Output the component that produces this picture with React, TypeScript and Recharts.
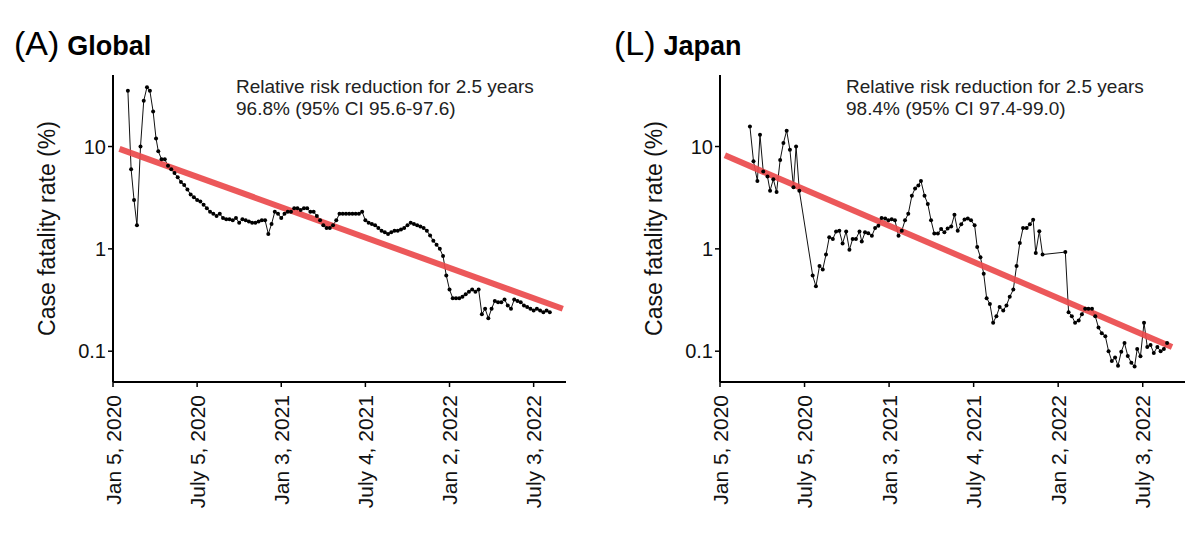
import React from "react";
import { CartesianGrid, Line, LineChart, XAxis, YAxis } from "recharts";

// x values are weeks since Jan 5, 2020
const tickWeeks = [0, 26, 52, 78, 104, 130];
const tickLabels = ["Jan 5, 2020", "July 5, 2020", "Jan 3, 2021", "July 4, 2021", "Jan 2, 2022", "July 3, 2022"];
const yTicks = [0.1, 1, 10];

const globalWeeks = [
  4.6, 5.6, 6.5, 7.4, 8.5, 9.5, 10.5, 11.4, 12.4, 13.3, 14, 15, 16, 17, 18, 19, 20, 21, 22, 23, 24, 25, 26, 27, 28, 29,
  30, 31, 32, 33, 34, 35, 36, 37, 38, 39, 40, 41, 42, 43, 44, 45, 46, 47, 48, 49, 50, 51, 52, 53, 54, 55, 56, 57, 58,
  59, 60, 61, 62, 63, 64, 65, 66, 67, 68, 69, 70, 71, 72, 73, 74, 75, 76, 77, 78, 79, 80, 81, 82, 83, 84, 85, 86, 87,
  88, 89, 90, 91, 92, 93, 94, 95, 96, 97, 98, 99, 100, 101, 102, 103, 104, 105, 106, 107, 108, 109, 110, 111, 112, 113,
  114, 115, 116, 117, 118, 119, 120, 121, 122, 123, 124, 125, 126, 127, 128, 129, 130, 131, 132, 133, 134, 135,
];
const globalRates = [
  35, 6, 3, 1.7, 10, 28, 38, 35, 22, 12, 9, 7.5, 7.5, 6.5, 6, 5.5, 5, 4.5, 4.2, 3.8, 3.4, 3.2, 3, 2.9, 2.7, 2.5, 2.3,
  2.2, 2.1, 2.2, 2, 1.95, 1.95, 1.9, 2, 1.8, 1.95, 1.9, 1.85, 1.8, 1.8, 1.85, 1.9, 1.9, 1.4, 1.75, 2.3, 2.2, 2.0, 2.2,
  2.3, 2.3, 2.5, 2.5, 2.4, 2.5, 2.5, 2.3, 2.3, 2.1, 1.9, 1.7, 1.6, 1.6, 1.7, 1.9, 2.2, 2.2, 2.2, 2.2, 2.2, 2.2, 2.2,
  2.3, 1.9, 1.8, 1.75, 1.7, 1.6, 1.5, 1.45, 1.4, 1.45, 1.5, 1.5, 1.55, 1.6, 1.7, 1.8, 1.75, 1.7, 1.65, 1.6, 1.5, 1.35,
  1.2, 1.1, 1.0, 0.85, 0.55, 0.4, 0.33, 0.33, 0.33, 0.34, 0.36, 0.38, 0.4, 0.38, 0.4, 0.23, 0.26, 0.21, 0.26, 0.31,
  0.3, 0.3, 0.32, 0.28, 0.26, 0.32, 0.31, 0.3, 0.28, 0.27, 0.26, 0.25, 0.26, 0.25, 0.24, 0.25, 0.24,
];
const globalTrendWeeks = [2, 139];
const globalTrendRates = [9.5, 0.26];

const japanWeeks = [
  9.2, 10.3, 11.5, 12.3, 13.3, 14.6, 15.4, 16.4, 17.4, 18.5, 19.5, 20.5, 21.5, 22.6, 23.4, 24.4, 28.5, 29.5, 30.6, 31.6,
  32.6, 33.6, 34.7, 35.7, 36.7, 37.7, 38.8, 39.8, 40.8, 41.8, 42.9, 43.6, 44.6, 45.6, 46.7, 47.7, 48.7, 49.7, 50.8,
  51.8, 52.8, 53.8, 54.9, 55.9, 56.9, 57.9, 59, 60, 61, 61.8, 62.9, 63.9, 64.9, 65.9, 67, 68, 69, 70, 71.1, 72.1, 73.1,
  74.2, 75.2, 76.2, 77.2, 78.3, 79.1, 80.1, 81.1, 82, 83, 84, 85, 86, 87.1, 88.1, 89.1, 90.2, 91.2, 92.2, 93.2, 94.3,
  95.3, 96.3, 97.1, 98.2, 99.2, 106.2, 107.2, 108.2, 109.2, 110.3, 111.3, 112.3, 113.3, 114.4, 115.4, 116.4, 117.4,
  118.5, 119.5, 120.5, 121.5, 122.4, 123.4, 124.4, 125.4, 126.5, 127.5, 128.3, 129.3, 130.4, 131.4, 132.4, 133.4,
  134.5, 135.5, 136.5, 137.5,
];
const japanRates = [
  15.7, 7.2, 4.6, 13, 5.7, 5.1, 3.7, 4.8, 3.6, 7.4, 10.8, 14.3, 9.3, 4.0, 10, 3.7, 0.55, 0.43, 0.68, 0.63, 0.88, 1.3,
  1.25, 1.48, 1.5, 1.13, 1.48, 0.98, 1.25, 1.25, 1.48, 1.18, 1.45, 1.42, 1.34, 1.6, 1.68, 2.0, 1.98, 1.9, 1.95, 1.9,
  1.34, 1.5, 1.9, 2.2, 3.3, 3.9, 4.15, 4.6, 3.3, 2.75, 1.9, 1.41, 1.41, 1.56, 1.45, 1.58, 1.65, 2.15, 1.5, 1.74, 1.94,
  1.98, 1.9, 1.7, 1.04, 0.83, 0.57, 0.33, 0.29, 0.19, 0.22, 0.27, 0.25, 0.28, 0.34, 0.4, 0.68, 1.14, 1.6, 1.6, 1.74,
  1.93, 0.91, 1.49, 0.88, 0.93, 0.24, 0.22, 0.19, 0.2, 0.23, 0.26, 0.26, 0.26, 0.22, 0.17, 0.15, 0.14, 0.1, 0.08, 0.087,
  0.072, 0.099, 0.12, 0.09, 0.077, 0.071, 0.105, 0.089, 0.19, 0.11, 0.115, 0.096, 0.11, 0.1, 0.105, 0.12,
];
const japanTrendWeeks = [1.5, 139];
const japanTrendRates = [8.2, 0.11];

const font = "'Liberation Sans', Arial, sans-serif";

const zip = (ws: number[], vs: number[]) => ws.map((w, i) => ({ w, v: vs[i] }));

function DateTick({ x, y, payload }: any) {
  const i = tickWeeks.indexOf(payload.value);
  return (
    <text
      x={x}
      y={y + 6}
      transform={`rotate(-90, ${x}, ${y + 6})`}
      textAnchor="end"
      dominantBaseline="central"
      fontSize={21}
      fontFamily={font}
      fill="#111"
    >
      {tickLabels[i]}
    </text>
  );
}

interface PanelProps {
  left: number;
  letter: string;
  name: string;
  rrr: string;
  weeks: number[];
  rates: number[];
  trendWeeks: number[];
  trendRates: number[];
  xMax: number;
  marginLeft: number;
  marginRight: number;
  noteX: number;
}

function Panel(p: PanelProps) {
  return (
    <div style={{ position: "absolute", left: p.left, top: 0, width: 600, height: 545 }}>
      <div style={{ position: "absolute", left: 14, top: 24, fontFamily: font, whiteSpace: "nowrap" }}>
        <span style={{ fontSize: 34 }}>({p.letter})</span>
        <span style={{ fontSize: 27, fontWeight: "bold", marginLeft: 8 }}>{p.name}</span>
      </div>
      <div style={{ position: "absolute", left: p.noteX, top: 76, fontFamily: font, fontSize: 19, lineHeight: "22px", color: "#222" }}>
        Relative risk reduction for 2.5 years
        <br />
        {p.rrr}
      </div>
      <LineChart
        width={600}
        height={545}
        margin={{ top: 75, right: p.marginRight, bottom: 13, left: p.marginLeft }}
      >
        <CartesianGrid stroke="none" />
        <XAxis
          type="number"
          dataKey="w"
          domain={[0, p.xMax]}
          ticks={tickWeeks}
          tick={<DateTick />}
          height={150}
          interval={0}
          axisLine={{ stroke: "#000", strokeWidth: 2 }}
          tickLine={{ stroke: "#000", strokeWidth: 1.5 }}
          tickSize={5}
        />
        <YAxis
          type="number"
          scale="log"
          domain={[0.05, 50]}
          allowDataOverflow
          ticks={yTicks}
          width={60}
          tick={{ fontSize: 20, fill: "#111", fontFamily: font }}
          axisLine={{ stroke: "#000", strokeWidth: 2 }}
          tickLine={{ stroke: "#000", strokeWidth: 1.5 }}
          tickSize={5}
          label={{
            value: "Case fatality rate (%)",
            angle: -90,
            position: "insideLeft",
            offset: -6,
            style: { fontSize: 23, fontFamily: font, fill: "#111", textAnchor: "middle" },
          }}
        />
        <Line
          data={zip(p.weeks, p.rates)}
          dataKey="v"
          type="linear"
          stroke="#111"
          strokeWidth={1}
          dot={{ r: 2, fill: "#000", stroke: "none" }}
          isAnimationActive={false}
        />
        <Line
          data={zip(p.trendWeeks, p.trendRates)}
          dataKey="v"
          type="linear"
          stroke="#ea4a4c"
          strokeWidth={6}
          strokeOpacity={0.92}
          dot={false}
          isAnimationActive={false}
        />
      </LineChart>
    </div>
  );
}

export default function App() {
  return (
    <div style={{ position: "absolute", left: 0, top: 0, width: 1200, height: 545, background: "#fff" }}>
      <Panel
        left={0}
        letter="A"
        name="Global"
        rrr="96.8% (95% CI 95.6-97.6)"
        weeks={globalWeeks}
        rates={globalRates}
        trendWeeks={globalTrendWeeks}
        trendRates={globalTrendRates}
        xMax={140}
        marginLeft={53}
        marginRight={34}
        noteX={236}
      />
      <Panel
        left={600}
        letter="L"
        name="Japan"
        rrr="98.4% (95% CI 97.4-99.0)"
        weeks={japanWeeks}
        rates={japanRates}
        trendWeeks={japanTrendWeeks}
        trendRates={japanTrendRates}
        xMax={143}
        marginLeft={60}
        marginRight={15}
        noteX={246}
      />
    </div>
  );
}
